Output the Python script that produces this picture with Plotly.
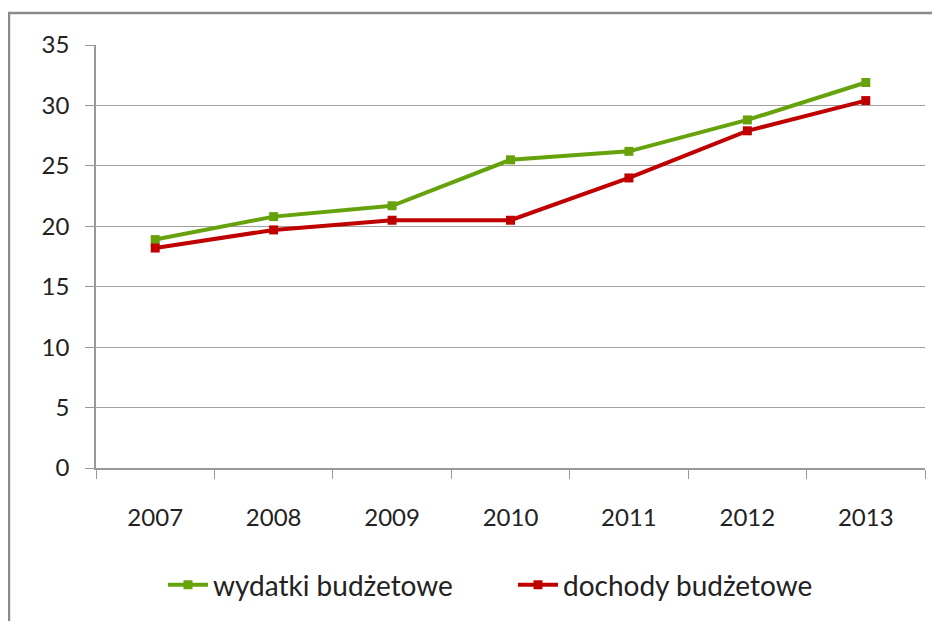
import plotly.graph_objects as go

# Data
years = ["2007", "2008", "2009", "2010", "2011", "2012", "2013"]
wydatki = [18.9, 20.8, 21.7, 25.5, 26.2, 28.8, 31.9]
dochody = [18.2, 19.7, 20.5, 20.5, 24.0, 27.9, 30.4]
y_ticks = [0, 5, 10, 15, 20, 25, 30, 35]

GREEN = "#66A20C"
RED = "#C00000"
FONT = "Lato"

fig = go.Figure()

fig.add_trace(go.Scatter(
    x=years, y=wydatki, name="wydatki budżetowe",
    mode="lines+markers",
    line=dict(color=GREEN, width=4),
    marker=dict(symbol="square", size=9, color=GREEN),
))
fig.add_trace(go.Scatter(
    x=years, y=dochody, name="dochody budżetowe",
    mode="lines+markers",
    line=dict(color=RED, width=4),
    marker=dict(symbol="square", size=9, color=RED),
))

# the page body adds an 8px offset, so margins are reduced by 8
fig.update_layout(
    width=940, height=621,
    margin=dict(l=88, r=23, t=37, b=161),
    plot_bgcolor="white",
    paper_bgcolor="white",
    font=dict(family=FONT, size=24, color="#222222"),
    showlegend=True,
    legend=dict(
        orientation="h", x=0.503, xanchor="center", y=-0.277, yanchor="middle",
        font=dict(size=28), itemwidth=40,
        entrywidth=295, entrywidthmode="pixels",
    ),
    # outer chart border
    shapes=[dict(
        type="rect", xref="paper", yref="paper",
        x0=-0.105, x1=1.2, y0=-0.6, y1=1.0757,
        line=dict(color="#8a8a8a", width=2.5),
    )],
)

fig.update_xaxes(
    type="category",
    range=[-0.5, 6.5],
    showline=True, linecolor="#999999", linewidth=1.5,
    ticks="outside", tickson="boundaries", ticklen=9, tickcolor="#999999",
    ticklabelstandoff=27,
    showgrid=False,
)

fig.update_yaxes(
    range=[0, 35],
    tickvals=y_ticks,
    showline=True, linecolor="#999999", linewidth=1.5,
    ticks="outside", ticklen=9, tickcolor="#999999",
    ticklabelstandoff=11,
    gridcolor="#a0a0a0", gridwidth=1.2,
    zeroline=False,
)

fig.write_html("out.html")
